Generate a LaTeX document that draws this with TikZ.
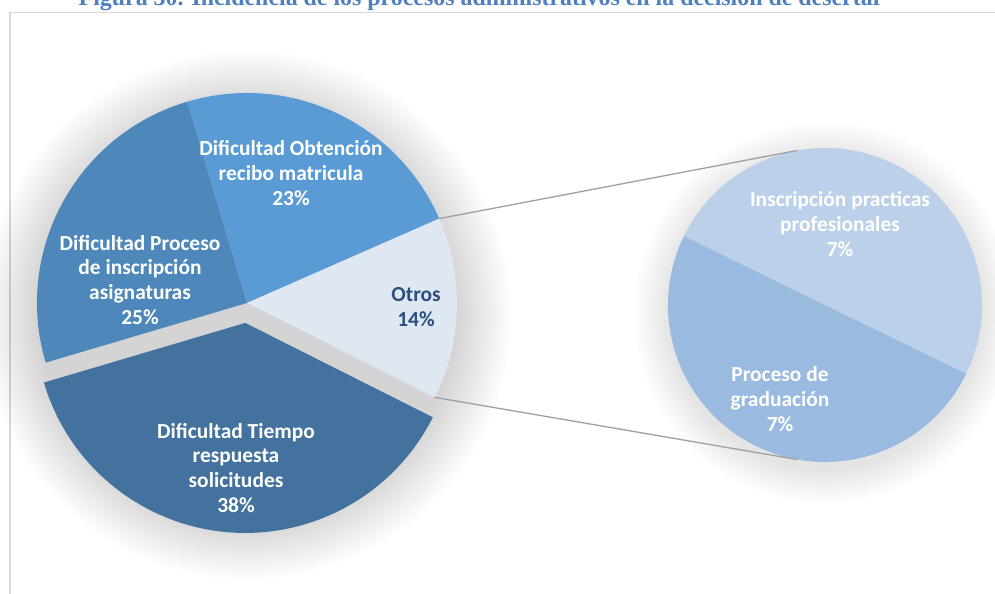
\documentclass[tikz,border=0pt]{standalone}
\usepackage{fontspec}
\usetikzlibrary{calc}
\setmainfont{Carlito}
\newfontfamily\titlefont{Liberation Serif}
\definecolor{titleblue}{HTML}{4F7FBF}
\definecolor{framegray}{HTML}{D9D9D9}
\definecolor{cproceso}{HTML}{4E87BA}
\definecolor{cobtencion}{HTML}{5B9BD5}
\definecolor{cotros}{HTML}{DFE7F3}
\definecolor{ctiempo}{HTML}{43729F}
\definecolor{cinscr}{HTML}{BCD0EA}
\definecolor{cgrad}{HTML}{9ABAE0}
\definecolor{otrostext}{HTML}{2B4F7E}
\definecolor{gapgray}{HTML}{D4D4D4}
\definecolor{linkgray}{HTML}{A0A0A0}
\begin{document}
\begin{tikzpicture}[x=0.02cm,y=0.02cm,
  lbl/.style={align=center,font=\bfseries\fontsize{12.2}{14.2}\selectfont,text=white,inner sep=0pt},
  link/.style={draw=linkgray,line width=0.75pt}]
\useasboundingbox (0,0) rectangle (995,593);
\clip (0,0) rectangle (995,593);
% title and frame
\node[font=\titlefont\bfseries\fontsize{13.6}{15}\selectfont,text=titleblue,anchor=base] (title) at (481,587) {Figura 30. Incidencia de los procesos administrativos en la decisión de desertar};
\draw[framegray,line width=0.8pt] (10,-5) |- (1005,580.3);
% centres
\coordinate (mc) at (247,290);
\coordinate (sc) at (825,288);
% soft shadows
\foreach \r in {212,216,...,264}{
  \fill[black,opacity=0.012] ($(mc)+(0,-12)$) circle[radius=\r];
}
\foreach \r in {158,162,...,190}{
  \fill[black,opacity=0.012] ($(sc)+(0,-8)$) circle[radius=\r];
}
% gap shadow
\fill[gapgray] (mc) -- ++(196.5:210) arc[start angle=196.5,end angle=333.3,radius=210] -- cycle;
% main pie slices
\fill[cproceso] (mc) -- ++(106.5:210) arc[start angle=106.5,end angle=196.5,radius=210] -- cycle;
\fill[cobtencion] (mc) -- ++(23.7:210) arc[start angle=23.7,end angle=106.5,radius=210] -- cycle;
\fill[cotros] (mc) -- ++(-26.7:210) arc[start angle=-26.7,end angle=23.7,radius=210] -- cycle;
\coordinate (ec) at ($(mc)+(265:20)$);
\fill[ctiempo] (ec) -- ++(196.5:210) arc[start angle=196.5,end angle=333.3,radius=210] -- cycle;
% secondary pie
\fill[cinscr] (sc) -- ++(-26:157) arc[start angle=-26,end angle=154,radius=157] -- cycle;
\fill[cgrad] (sc) -- ++(154:157) arc[start angle=154,end angle=334,radius=157] -- cycle;
% connector lines
\coordinate (otop) at ($(mc)+(23.7:210)$);
\coordinate (obot) at ($(mc)+(-26.7:210)$);
\coordinate (stop) at ($(sc)+(100.3:157)$);
\coordinate (sbot) at ($(sc)+(259.7:157)$);
\draw[link] (otop) -- (stop);
\draw[link] (obot) -- (sbot);
% labels
\node[lbl] (lobt) at (291,420) {Dificultad Obtención\\recibo matricula\\23\%};
\node[lbl] (lpro) at (140,313) {Dificultad Proceso\\de inscripción\\asignaturas\\25\%};
\node[lbl,text=otrostext] (lotr) at (416,285.5) {Otros\\14\%};
\node[lbl] (ltie) at (236,125) {Dificultad Tiempo\\respuesta\\solicitudes\\38\%};
\node[lbl] (lins) at (840,368.5) {Inscripción practicas\\profesionales\\7\%};
\node[lbl] (lgra) at (780,194) {Proceso de\\graduación\\7\%};
\end{tikzpicture}
\end{document}
